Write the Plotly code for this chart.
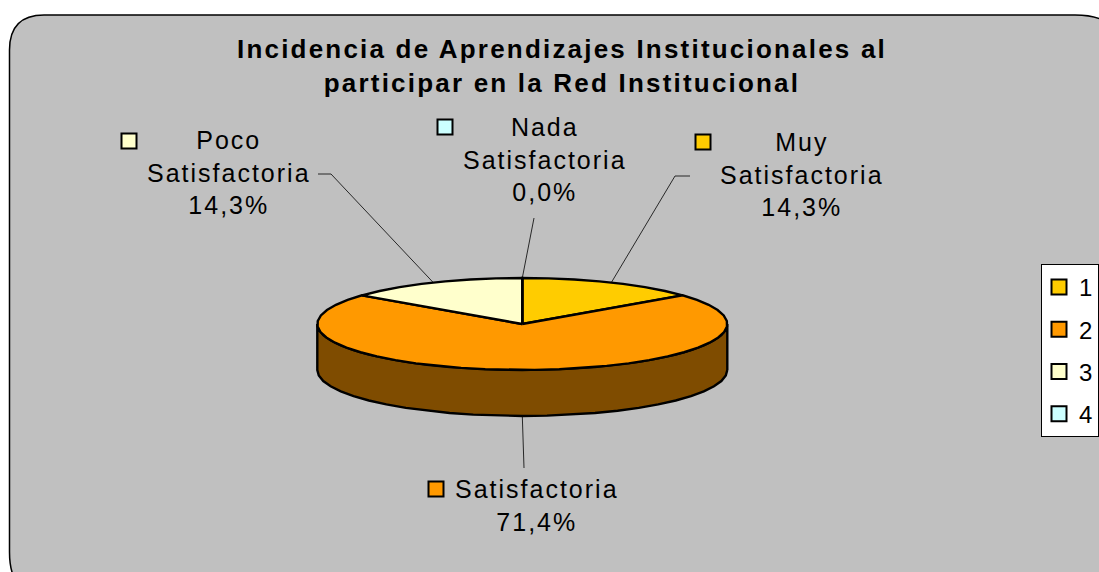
import math
import plotly.graph_objects as go

# Data
legend_names = ["1", "2", "3", "4"]
categories = ["Muy<br>Satisfactoria", "Satisfactoria", "Poco<br>Satisfactoria", "Nada<br>Satisfactoria"]
values = [14.3, 71.4, 14.3, 0.0]
colors = ["#FFCC00", "#FF9900", "#FFFFCC", "#CCFFFF"]
wall_color = "#7F4C00"

# Layout of the pie in pixel space
W, H = 1099, 572
CX, CY, RX, RY, DEPTH = 522.3, 324, 205, 46, 46
STEP = 7.0
FONT = "Liberation Sans, Arial, sans-serif"
swatch_x = [703, 436, 129, 445]
swatch_y = [142, 489, 141, 127]
label_x = [802, 537, 228.5, 544.5]
label_y = [174.5, 505.5, 172.5, 159.5]
leader_mid = [[(675, 176), (690, 176)], [(524, 468)], [(331, 174), (318, 174)], [(533, 226), (534, 218)]]


def pt(a, dy=0):
    r = math.radians(a)
    return CX + RX * math.sin(r), CY - RY * math.cos(r) + dy


def arc(a0, a1, dy=0):
    n = max(1, int(round((a1 - a0) / STEP)))
    return [pt(a0 + (a1 - a0) * i / n, dy) for i in range(n + 1)]


fig = go.Figure()
total = sum(values)

# side wall (front half of the rim)
low = arc(90, 270, DEPTH)
top = arc(90, 270)
wall = low + top[::-1] + [low[0]]
fig.add_trace(go.Scatter(x=[p[0] for p in wall], y=[p[1] for p in wall], mode="lines", fill="toself",
                         fillcolor=wall_color, line=dict(color="black", width=2.4), showlegend=False, hoverinfo="skip"))

# top slices, clockwise from 12 o'clock
start = 0.0
mids = []
for v, c in zip(values, colors):
    sweep = 360 * v / total
    mids.append(start + sweep / 2)
    poly = [(CX, CY)] + arc(start, start + sweep) + [(CX, CY)]
    fig.add_trace(go.Scatter(x=[p[0] for p in poly], y=[p[1] for p in poly], mode="lines", fill="toself",
                             fillcolor=c, line=dict(color="black", width=2.4), showlegend=False, hoverinfo="skip"))
    start += sweep

# leader lines
for m, mid in zip(mids, leader_mid):
    front = 90 < m < 270
    a = pt(m, DEPTH if front else 0)
    pts = [a] + mid
    fig.add_trace(go.Scatter(x=[p[0] for p in pts], y=[p[1] for p in pts], mode="lines",
                             line=dict(color="black", width=0.8), showlegend=False, hoverinfo="skip"))

# swatches beside the labels, also the legend entries
for i, name in enumerate(legend_names):
    fig.add_trace(go.Scatter(x=[swatch_x[i]], y=[swatch_y[i]], mode="markers", name=name, legendgroup=name,
                             marker=dict(symbol="square", size=15, color=colors[i], line=dict(color="black", width=2)),
                             hoverinfo="skip"))

# data labels
annotations = []
for i, cat in enumerate(categories):
    pct = f"{values[i]:.1f}".replace(".", ",") + "%"
    annotations.append(dict(x=label_x[i], y=label_y[i], xref="x", yref="y", text=f"{cat}<br>{pct}", showarrow=False,
                            xanchor="center", yanchor="middle", align="center",
                            font=dict(family=FONT, size=25, color="black")))

fig.update_layout(
    width=W, height=H, autosize=False,
    margin=dict(l=0, r=0, t=0, b=0, autoexpand=False),
    paper_bgcolor="white", plot_bgcolor="rgba(0,0,0,0)",
    xaxis=dict(range=[0, W], visible=False, fixedrange=True),
    yaxis=dict(range=[H, 0], visible=False, fixedrange=True),
    title=dict(text="Incidencia de Aprendizajes Institucionales al<br>participar en la Red Institucional",
               x=562 / W, xanchor="center", y=1 - 58 / H, yanchor="top",
               font=dict(family=FONT, size=26, color="black", weight="bold")),
    annotations=annotations,
    legend=dict(x=1041 / W, xanchor="left", y=1 - 264 / H, yanchor="top", bgcolor="white",
                bordercolor="black", borderwidth=1, traceorder="grouped", tracegroupgap=8, indentation=-3,
                entrywidth=40, entrywidthmode="pixels",
                font=dict(family=FONT, size=24, color="black")),
    shapes=[dict(type="path", layer="below",
                 path="M 9.5 50 Q 9.5 15 44 15 L 1075 15 Q 1120 15 1120 50 L 1120 560 Q 1120 595 1085 595 "
                      "L 44 595 Q 9.5 595 9.5 552 Z",
                 fillcolor="#C0C0C0", line=dict(color="black", width=1.5))],
)

post = """
document.body.style.margin='0';
document.querySelectorAll('.annotation-text').forEach(function(t){t.style.letterSpacing='2px';});
document.querySelectorAll('.gtitle').forEach(function(t){t.style.letterSpacing='2.2px';});
"""
fig.write_html("out.html", post_script=post, config={"displayModeBar": False})
